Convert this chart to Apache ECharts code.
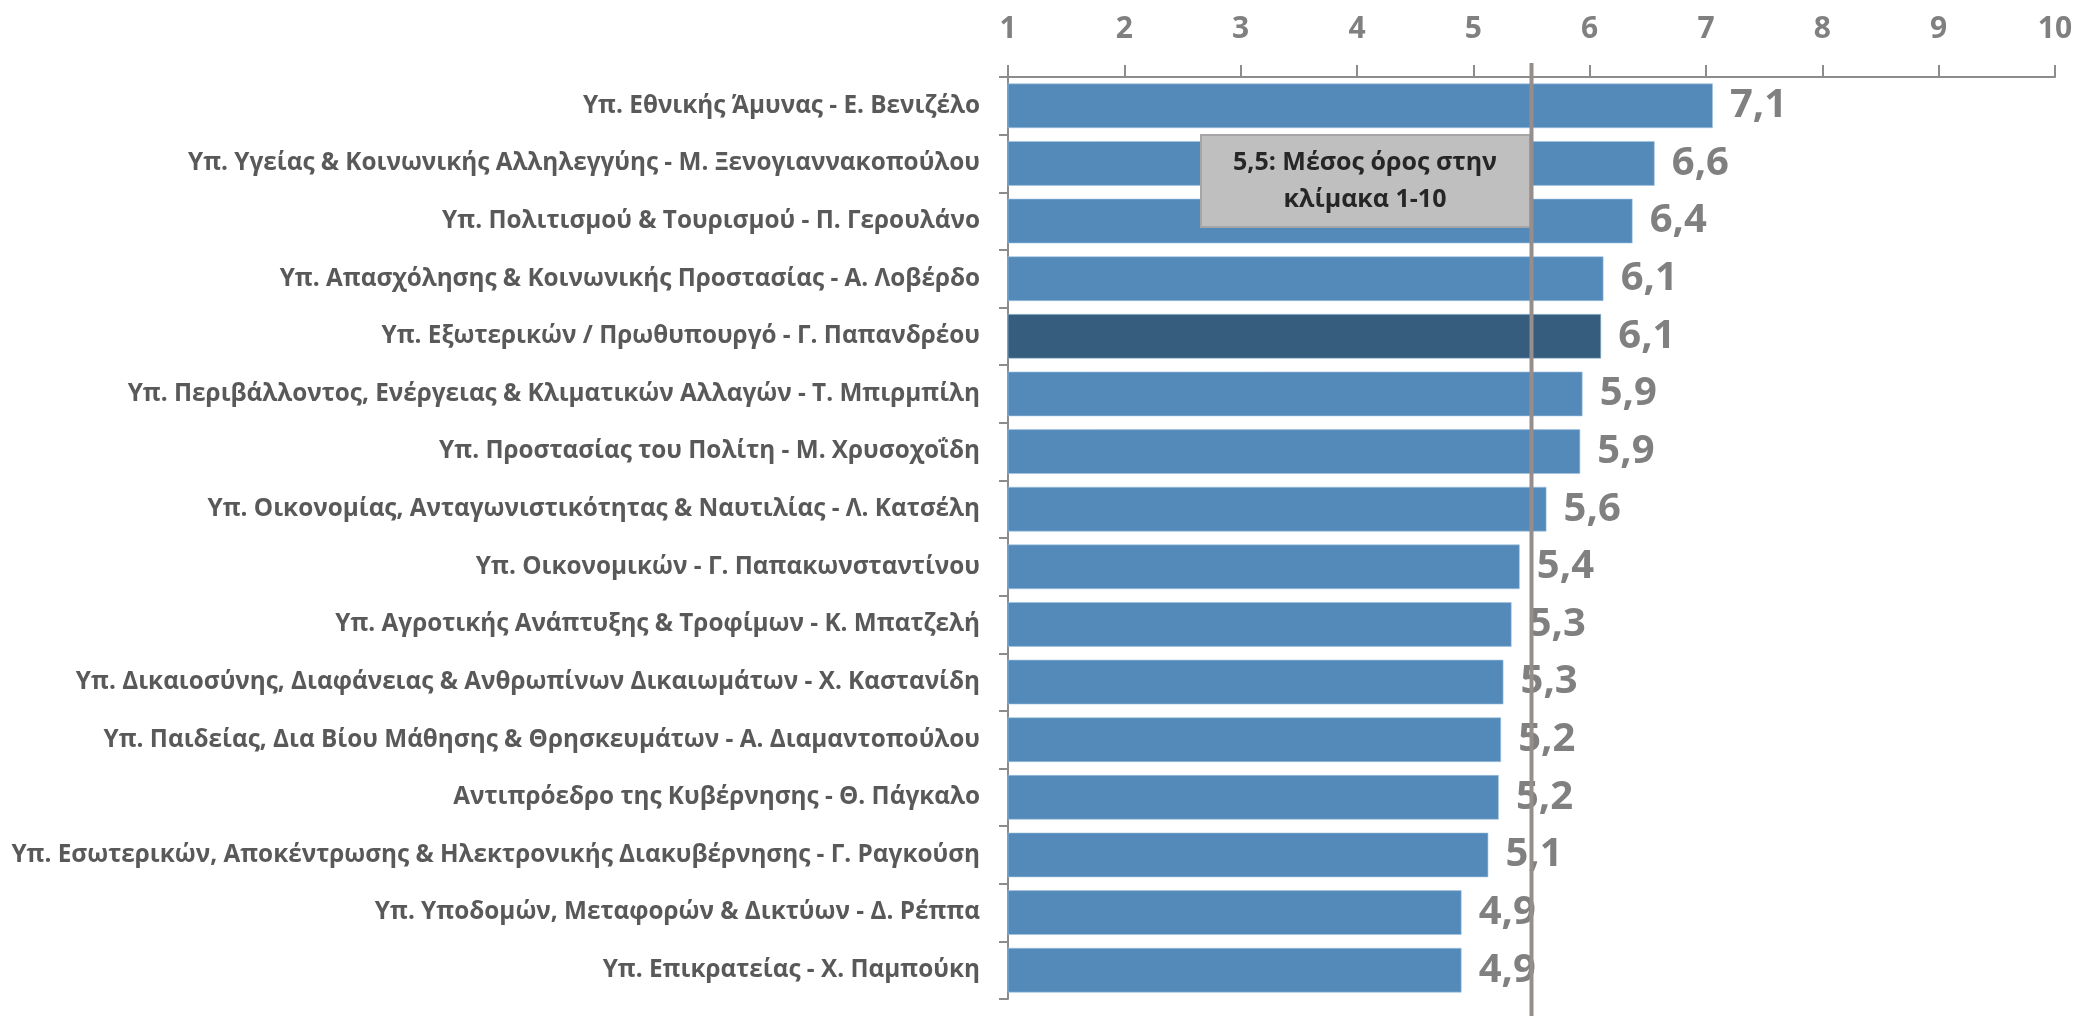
<!DOCTYPE html>
<html>
<head>
<meta charset="utf-8">
<script src="https://cdn.jsdelivr.net/npm/echarts@6/dist/echarts.min.js"></script>
<style>
html,body{margin:0;padding:0;background:#fff;}
#c{width:2076px;height:1016px;}
</style>
</head>
<body>
<div id="c"></div>
<script>
const categories = [
  "Υπ. Εθνικής Άμυνας - Ε. Βενιζέλο",
  "Υπ. Υγείας & Κοινωνικής Αλληλεγγύης - Μ. Ξενογιαννακοπούλου",
  "Υπ. Πολιτισμού & Τουρισμού - Π. Γερουλάνο",
  "Υπ. Απασχόλησης & Κοινωνικής Προστασίας - Α. Λοβέρδο",
  "Υπ. Εξωτερικών / Πρωθυπουργό - Γ. Παπανδρέου",
  "Υπ. Περιβάλλοντος, Ενέργειας & Κλιματικών Αλλαγών - Τ. Μπιρμπίλη",
  "Υπ. Προστασίας του Πολίτη - Μ. Χρυσοχοΐδη",
  "Υπ. Οικονομίας, Ανταγωνιστικότητας & Ναυτιλίας - Λ. Κατσέλη",
  "Υπ. Οικονομικών - Γ. Παπακωνσταντίνου",
  "Υπ. Αγροτικής Ανάπτυξης & Τροφίμων - Κ. Μπατζελή",
  "Υπ. Δικαιοσύνης, Διαφάνειας & Ανθρωπίνων Δικαιωμάτων - Χ. Καστανίδη",
  "Υπ. Παιδείας, Δια Βίου Μάθησης & Θρησκευμάτων - Α. Διαμαντοπούλου",
  "Αντιπρόεδρο της Κυβέρνησης - Θ. Πάγκαλο",
  "Υπ. Εσωτερικών, Αποκέντρωσης & Ηλεκτρονικής Διακυβέρνησης - Γ. Ραγκούση",
  "Υπ. Υποδομών, Μεταφορών & Δικτύων - Δ. Ρέππα",
  "Υπ. Επικρατείας - Χ. Παμπούκη"
];
const values = [7.06, 6.56, 6.37, 6.12, 6.10, 5.94, 5.92, 5.63, 5.40, 5.33, 5.26, 5.24, 5.22, 5.13, 4.90, 4.90];
const highlighted = ["Υπ. Εξωτερικών / Πρωθυπουργό - Γ. Παπανδρέου"];
const xTicks = [1, 2, 3, 4, 5, 6, 7, 8, 9, 10];
const meanValue = 5.5;
const meanText = ["5,5: Μέσος όρος στην", "κλίμακα 1-10"];

const chart = echarts.init(document.getElementById('c'), null, {renderer: 'canvas'});
const FONT = '"Open Sans", "Noto Sans", sans-serif';

const option = {
  animation: false,
  grid: {left: 1008, right: 21, top: 77, bottom: 17, containLabel: false},
  xAxis: {
    type: 'value', position: 'top',
    min: xTicks[0], max: xTicks[xTicks.length - 1], interval: 1,
    axisLine: {show: true, lineStyle: {color: '#8c8c8c', width: 2}},
    axisTick: {show: true, length: 12, lineStyle: {color: '#8c8c8c', width: 2}},
    splitLine: {show: false},
    axisLabel: {color: '#808080', fontFamily: FONT, fontWeight: 'bold', fontSize: 30, margin: 33,
      formatter: v => String(v)}
  },
  yAxis: {
    type: 'category', inverse: true, data: categories,
    axisLine: {show: true, lineStyle: {color: '#8c8c8c', width: 2}},
    axisTick: {show: true, length: 9, lineStyle: {color: '#8c8c8c', width: 2}},
    axisLabel: {color: '#595959', fontFamily: FONT, fontWeight: 'bold', fontSize: 24.3, margin: 28}
  },
  series: [{
    type: 'bar',
    barCategoryGap: '22%',
    data: values.map((v, i) => ({
      value: v,
      itemStyle: {color: highlighted.includes(categories[i]) ? '#365d7e' : '#548aba'}
    })),
    itemStyle: {borderColor: 'rgba(160,195,225,0.6)', borderWidth: 1},
    label: {
      show: true, position: 'right', distance: 17,
      color: '#808080', fontFamily: FONT, fontWeight: 'bold', fontSize: 40,
      formatter: p => p.value.toFixed(1).replace('.', ',')
    }
  }]
};
chart.setOption(option);

const mx = chart.convertToPixel({xAxisIndex: 0}, meanValue);
chart.setOption({
  graphic: [
    {type: 'line', z: 100, shape: {x1: mx, y1: 63, x2: mx, y2: 1016},
     style: {stroke: '#968d8d', lineWidth: 4}},
    {type: 'rect', z: 90, shape: {x: 1201, y: 135, width: 329, height: 92},
     style: {fill: '#bfbfbf', stroke: '#a6a6a6', lineWidth: 2}},
    {type: 'text', z: 91, x: 1365, y: 181,
     style: {text: meanText.join('\n'), fill: '#262626', font: 'bold 25px ' + FONT,
       align: 'center', verticalAlign: 'middle', lineHeight: 37}}
  ]
});
</script>
</body>
</html>
